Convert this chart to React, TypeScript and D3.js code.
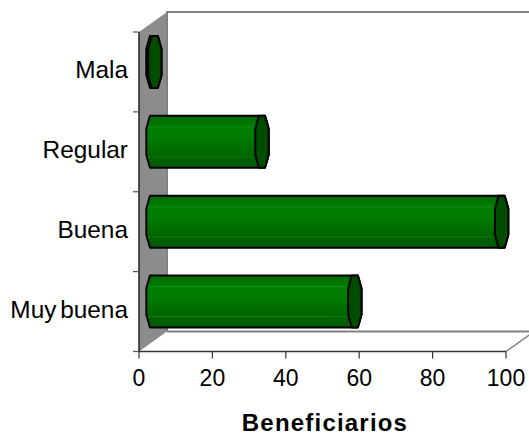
import React from 'react';
import * as d3 from 'd3';

const categories = ['Mala', 'Regular', 'Buena', 'Muy buena'];
const values = [0.5, 29.7, 95, 55];
const xTicks = [0, 20, 40, 60, 80, 100];

const W = 529;
const H = 437;
const depthX = 28;
const depthY = -20;
const left = 139;
const right = 506;
const top = 32;
const bottom = 351.5;
const FONT = '"Liberation Sans", Arial, sans-serif';

const x = d3.scaleLinear().domain([0, 100]).range([left, right]);
const y = d3.scaleBand<string>().domain(categories).range([top, bottom]);
const barH = y.step() * 0.65;

const linePath = d3.line();

// barrel end cap, cx is the middle of the cap
function capPoints(cx: number, y0: number, y1: number, sign: number): [number, number][] {
  return [
    [cx + sign * 3, y0],
    [cx + sign * 4.5, y0 + 5],
    [cx + sign * 6.7, y0 + 13],
    [cx + sign * 6.7, y1 - 13],
    [cx + sign * 4.5, y1 - 5],
    [cx + sign * 3, y1],
  ];
}

const App: React.FC = () => {
  return (
    <svg width={W} height={H} style={{ position: 'absolute', left: 0, top: 0, background: '#fff' }}>
      <defs>
        <linearGradient id="barFill" x1="0" y1="0" x2="0" y2="1">
          <stop offset="0" stopColor="#006a00" />
          <stop offset="0.2" stopColor="#007a00" />
          <stop offset="0.21" stopColor="#108a10" />
          <stop offset="0.23" stopColor="#008000" />
          <stop offset="0.4" stopColor="#007c00" />
          <stop offset="0.78" stopColor="#006400" />
          <stop offset="0.79" stopColor="#108010" />
          <stop offset="0.81" stopColor="#006000" />
          <stop offset="1" stopColor="#005a00" />
        </linearGradient>
      </defs>

      {/* side wall */}
      <polygon
        points={`${left},${top} ${left + depthX},${top + depthY} ${left + depthX},${bottom + depthY} ${left},${bottom}`}
        fill="#8c8c8c"
      />
      {/* back wall and floor lines */}
      <path
        d={linePath([[left + depthX, bottom + depthY], [left + depthX, top + depthY], [W + 4, top + depthY]]) || ''}
        fill="none"
        stroke="#808080"
        strokeWidth={2}
      />
      <path
        d={linePath([[left + depthX, bottom + depthY], [W + 4, bottom + depthY]]) || ''}
        fill="none"
        stroke="#808080"
        strokeWidth={2}
      />
      <path
        d={linePath([[right, bottom], [right + depthX, bottom + depthY]]) || ''}
        fill="none"
        stroke="#808080"
        strokeWidth={1.5}
      />

      {/* bars */}
      {categories.map((c, i) => {
        const y0 = (y(c) as number) + (y.step() - barH) / 2 + depthY / 2;
        const y1 = y0 + barH;
        const cx0 = x(0) + depthX / 2;
        const cx1 = x(values[i]) + depthX / 2;
        const outline = [...capPoints(cx0, y0, y1, -1), ...capPoints(cx1, y0, y1, 1).reverse()];
        const cap = [...capPoints(cx1, y0, y1, -1), ...capPoints(cx1, y0, y1, 1).reverse()];
        return (
          <g key={c} stroke="#000" strokeWidth={2} strokeLinejoin="round">
            <polygon points={outline.join(' ')} fill="url(#barFill)" />
            <polygon points={cap.join(' ')} fill="#004d00" />
          </g>
        );
      })}

      {/* axes */}
      <line x1={left} x2={left} y1={top} y2={bottom} stroke="#222" strokeWidth={1.5} />
      <line x1={left} x2={right} y1={bottom} y2={bottom} stroke="#333" strokeWidth={1.5} />
      {d3.range(categories.length + 1).map((i) => (
        <line key={i} x1={left - 6} x2={left} y1={top + i * y.step()} y2={top + i * y.step()} stroke="#555" strokeWidth={1.2} />
      ))}
      {categories.map((c) => (
        <text
          key={c}
          x={128}
          y={(y(c) as number) + y.step() / 2 + 6.5}
          textAnchor="end"
          fontFamily={FONT}
          fontSize={24.4}
          wordSpacing={-3}
          fill="#000"
        >
          {c}
        </text>
      ))}
      {xTicks.map((t) => (
        <g key={t}>
          <line x1={x(t)} x2={x(t)} y1={bottom} y2={bottom + 7} stroke="#333" strokeWidth={1.2} />
          <text x={x(t)} y={386} textAnchor="middle" fontFamily={FONT} fontSize={23} fill="#000">
            {t}
          </text>
        </g>
      ))}
      <text
        x={325}
        y={431}
        textAnchor="middle"
        fontFamily={FONT}
        fontSize={24}
        letterSpacing={1.2}
        fontWeight="bold"
        fill="#000"
      >
        Beneficiarios
      </text>
    </svg>
  );
};

export default App;
